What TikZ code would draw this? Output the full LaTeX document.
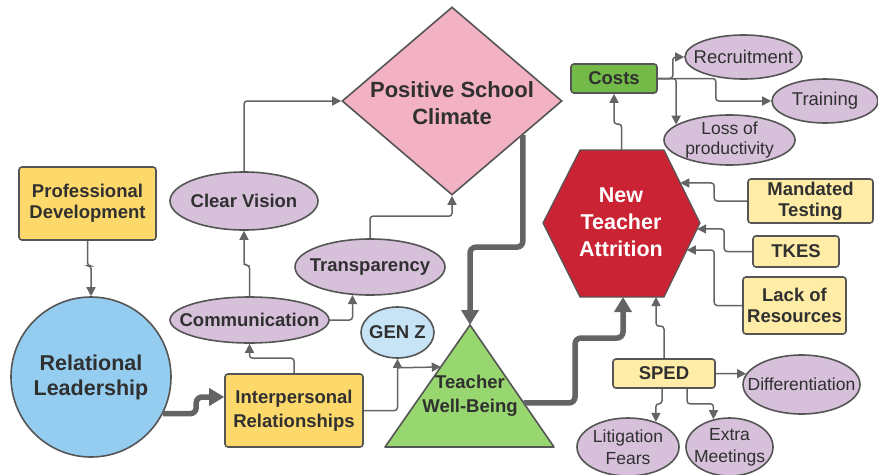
\documentclass[tikz,border=0pt]{standalone}
\usepackage{fontspec}
\setmainfont{Liberation Sans}
\usetikzlibrary{shapes.geometric,arrows.meta,calc}
\definecolor{bordc}{RGB}{85,85,85}
\definecolor{linec}{RGB}{100,100,100}
\definecolor{txt}{RGB}{48,48,48}
\definecolor{yelA}{RGB}{253,216,106}
\definecolor{yelB}{RGB}{255,236,166}
\definecolor{purp}{RGB}{214,192,218}
\definecolor{blueA}{RGB}{148,205,240}
\definecolor{blueB}{RGB}{198,228,246}
\definecolor{pinkc}{RGB}{243,178,195}
\definecolor{greenT}{RGB}{152,214,112}
\definecolor{greenC}{RGB}{116,186,72}
\definecolor{redc}{RGB}{202,36,52}
\begin{document}
\begin{tikzpicture}[x=1pt,y=-1pt,
 box/.style={draw=bordc,line width=1.6pt,rounded corners=3pt,inner sep=0pt,align=center,text=txt},
 ell/.style={ellipse,draw=bordc,line width=1.6pt,fill=purp,inner sep=0pt},
 lbl/.style={align=center,text=txt,inner sep=0pt},
 conn/.style={draw=linec,line width=1.5pt,rounded corners=3pt,-{Triangle[length=9pt,width=9pt]}},
 bigconn/.style={draw=linec,line width=5.5pt,rounded corners=6pt,-{Triangle[length=15pt,width=17pt]}},
 fb/.style={font=\fontsize{18.5}{21}\selectfont\bfseries},
 fr/.style={font=\fontsize{17.5}{20.5}\selectfont},
]
\useasboundingbox (0,0) rectangle (878,474);

% ---------- shapes ----------
\node[diamond,draw=bordc,line width=1.6pt,fill=pinkc,minimum width=220pt,minimum height=188pt,inner sep=0pt] (psc) at (452,101) {};
\node[lbl,font=\fontsize{22}{27}\selectfont\bfseries] (psct) at (452,103) {Positive School\\Climate};

\coordinate (twbA) at (470,325);
\coordinate (twbL) at (385,447);
\coordinate (twbR) at (554,447);
\filldraw[draw=bordc,line width=1.6pt,fill=greenT,line join=round] (twbA) -- (twbR) -- (twbL) -- cycle;
\node[lbl,font=\fontsize{18.5}{24}\selectfont\bfseries] (twb) at (470,396) {Teacher\\Well-Being};
\coordinate (twbin) at ($(twbA)!0.344!(twbL)$);
\coordinate (twbout) at ($(twbA)!0.639!(twbR)$);

\coordinate (h1) at (580,150);
\coordinate (h2) at (664,150);
\coordinate (h3) at (700,223);
\coordinate (h4) at (664,297);
\coordinate (h5) at (580,297);
\coordinate (h6) at (543,223);
\filldraw[draw=bordc,line width=1.2pt,fill=redc] (h1) -- (h2) -- (h3) -- (h4) -- (h5) -- (h6) -- cycle;
\node[align=center,text=white,font=\fontsize{21.5}{27}\selectfont\bfseries] (nta) at (621,222) {New\\Teacher\\Attrition};
\coordinate (ntaT) at ($(h1)!0.494!(h2)$);
\coordinate (ntaB1) at ($(h5)!0.512!(h4)$);
\coordinate (ntaB2) at ($(h5)!0.905!(h4)$);
\coordinate (ntaR1) at ($(h2)!0.452!(h3)$);
\coordinate (ntaR2) at ($(h3)!0.081!(h4)$);
\coordinate (ntaR3) at ($(h3)!0.365!(h4)$);

\node[box,fb,fill=yelA,minimum width=137pt,minimum height=73pt] (pd) at (87.5,203.5) {Professional\\Development};
\node[circle,draw=bordc,line width=1.6pt,fill=blueA,minimum size=160pt,inner sep=0pt,align=center,text=txt,font=\fontsize{21.5}{25}\selectfont\bfseries] (rl) at (91,377) {Relational\\Leadership};
\node[box,fill=yelA,minimum width=138pt,minimum height=73pt,font=\fontsize{18.5}{24}\selectfont\bfseries] (ir) at (294,410.5) {Interpersonal\\Relationships};

\node[ell,minimum width=159pt,minimum height=46pt] (comm) at (249.5,320) {};
\node[lbl,fb] (commt) at (comm) {Communication};
\node[ell,minimum width=148pt,minimum height=58pt] (cv) at (244,201) {};
\node[lbl,fb] (cvt) at (cv) {Clear Vision};
\node[ell,minimum width=150pt,minimum height=56pt] (tr) at (370,267) {};
\node[lbl,fb] (trt) at (tr) {Transparency};
\node[ell,fill=blueB,minimum width=73pt,minimum height=51pt] (genz) at (397.5,332.5) {};
\node[lbl,fb] (genzt) at (genz) {GEN Z};

\node[box,fb,fill=greenC,minimum width=86pt,minimum height=29pt] (costs) at (614,78.5) {Costs};
\node[ell,minimum width=117pt,minimum height=44pt] (recr) at (743.5,57) {};
\node[lbl,font=\fontsize{18.5}{21}\selectfont] (recrt) at (recr) {Recruitment};
\node[ell,minimum width=106pt,minimum height=44pt] (train) at (825,101) {};
\node[lbl,font=\fontsize{18.5}{21}\selectfont] (traint) at (train) {Training};
\node[ell,minimum width=131pt,minimum height=50pt] (loss) at (729.5,140) {};
\node[lbl,fr] (losst) at (loss) {Loss of\\productivity};

\node[box,fb,fill=yelB,minimum width=125pt,minimum height=44pt] (mt) at (810.5,201) {Mandated\\Testing};
\node[box,fb,fill=yelB,minimum width=86pt,minimum height=31pt] (tkes) at (796,251.5) {TKES};
\node[box,fb,fill=yelB,minimum width=103pt,minimum height=57pt] (lor) at (794.5,305.5) {Lack of\\Resources};
\node[box,fb,fill=yelB,minimum width=102pt,minimum height=29pt] (sped) at (664,373.5) {SPED};

\node[ell,minimum width=117pt,minimum height=59pt] (diff) at (801.5,384.5) {};
\node[lbl,fr] (difft) at (diff) {Differentiation};
\node[ell,minimum width=102pt,minimum height=58pt] (lit) at (628,447) {};
\node[lbl,font=\fontsize{17.5}{22}\selectfont] (litt) at (lit) {Litigation\\Fears};
\node[ell,minimum width=87pt,minimum height=58pt] (extra) at (729.5,447) {};
\node[lbl,font=\fontsize{17.5}{22}\selectfont] (extrat) at (extra) {Extra\\Meetings};

% ---------- thick connectors ----------
\draw[bigconn] (rl.-27) -| ($(ir.west)+(-28,-13.5)$) -- ($(ir.west)+(0,-13.5)$);
\draw[bigconn] ($(psc.east)!0.36!(psc.south)$) -- ++(0,112) -| (twbA);
\draw[bigconn] (twbout) -| (575,338) -| (ntaB1);

% ---------- thin connectors ----------
\draw[conn] (pd.south) -- ++(0,25) -| (rl.north);
\draw[conn] (ir.north) -- ++(0,-15) -| (comm.south);
\draw[conn] (comm.north) -- ++(0,-31) -| (cv.south);
\draw[conn] (cv.north) |- (psc.west);
\draw[conn] (tr.north) -- ++(0,-22) -| (psc.south);
\draw[conn] (comm.east) -| (tr.238);
\draw[conn] (ir.east) -| (genz.south);
\draw[conn] ($(genz.south)+(0,9)$) -- (twbin);
\draw[conn] (ntaT) -- ++(0,-26) -| (costs.south);
\draw[conn] (costs.east) -- ++(15,0) |- (recr.west);
\draw[conn] (costs.east) -- ++(58,0) |- (train.west);
\draw[conn] (costs.east) -| (loss.164);
\draw[conn] (mt.west) -- ++(-33,0) |- (ntaR1);
\draw[conn] (tkes.west) -- ++(-28,0) |- (ntaR2);
\draw[conn] (lor.west) -- ++(-28,0) |- (ntaR3);
\draw[conn] (sped.north) -- ++(0,-32) -| (ntaB2);
\draw[conn] (sped.east) -- (diff.169);
\draw[conn] ($(sped.south)+(-2,0)$) -- ++(0,15) -| (lit.42);
\draw[conn] ($(sped.south)+(23,0)$) -- ++(0,15) -| (extra.120);
\end{tikzpicture}
\end{document}
